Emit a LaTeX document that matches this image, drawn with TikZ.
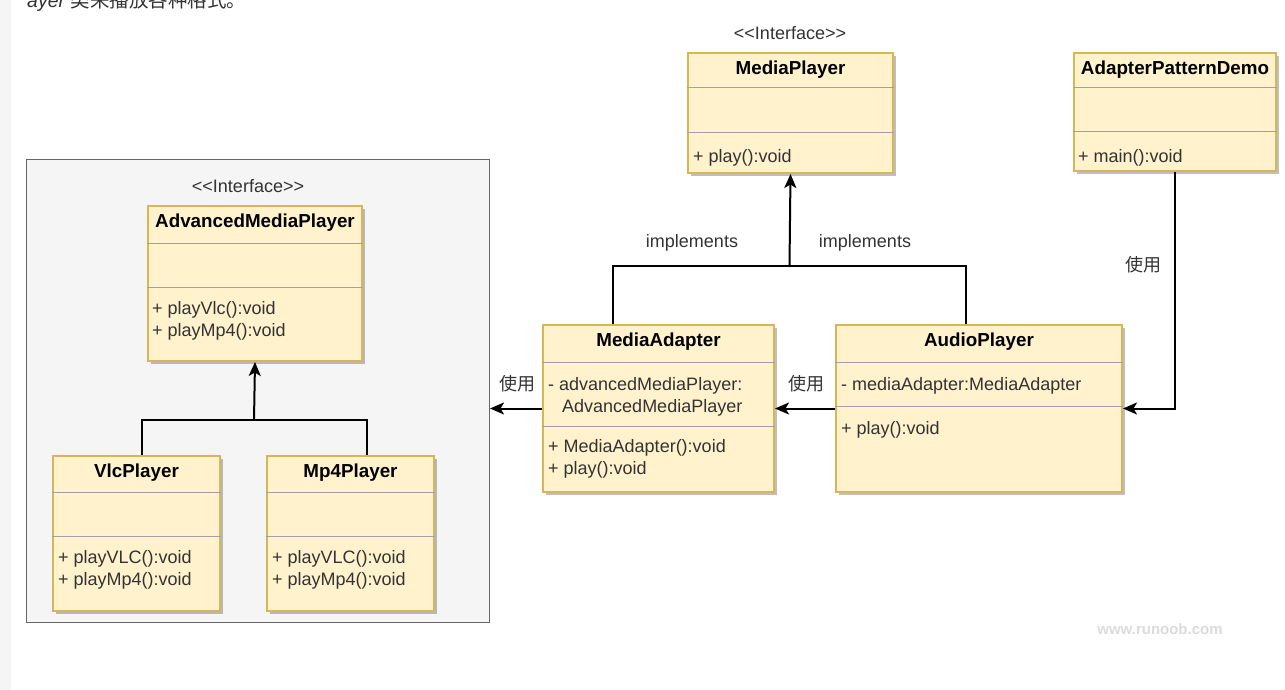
\documentclass[tikz,border=0pt]{standalone}
\usepackage{fontspec}
\setmainfont{Liberation Sans}
\newfontfamily\cjk{Noto Sans CJK SC}
\usepackage{tikz}
\usetikzlibrary{arrows.meta,shadows,positioning}
\definecolor{umlfill}{RGB}{255,242,204}
\definecolor{umlborder}{RGB}{214,182,86}
\definecolor{groupfill}{RGB}{245,245,245}
\definecolor{groupborder}{RGB}{102,102,102}
\definecolor{textgray}{RGB}{51,51,51}
\definecolor{sepgray}{RGB}{160,160,170}
\tikzstyle{classbox} = [rectangle, anchor=north west, draw=umlborder, fill=umlfill, line width=2pt, inner sep=0pt, drop shadow={shadow xshift=3pt, shadow yshift=-3pt, fill=black, opacity=0.25}]
\tikzstyle{classname} = [inner sep=0pt, font=\fontsize{18.8}{22}\selectfont\bfseries, text=black]
\tikzstyle{member} = [anchor=west, inner sep=0pt, align=left, font=\fontsize{18}{22}\selectfont, text=textgray]
\tikzstyle{sepline} = [line width=1pt, color=sepgray]
\tikzstyle{connector} = [line width=2pt, color=black]
\tikzstyle{arrow} = [connector, -{Stealth[length=14pt, width=12pt, inset=3.5pt]}]
\tikzstyle{linklabel} = [inner sep=0pt, font=\fontsize{18}{22}\selectfont, text=textgray]

\begin{document}
\begin{tikzpicture}[x=1pt, y=-1pt]
\useasboundingbox (0,0) rectangle (1285,690);
\fill[groupfill] (0,0) rectangle (11,690);
\node (pagetext) [anchor=base west, inner sep=0pt, font=\fontsize{19.5}{22}\selectfont, text=textgray] at (27,8) {{\itshape ayer} {\cjk 类来播放各种格式。}};

% left group with the advanced players
\node (group) [rectangle, anchor=north west, draw=groupborder, fill=groupfill, line width=1pt, minimum width=463pt, minimum height=463pt] at (26,159) {};
\node (advstereo) [linklabel] at (248,186) {<\kern0pt<Interface>\kern0pt>};

\node (advplayer) [classbox, minimum width=214pt, minimum height=155pt] at (147,205) {};
\node (advplayer-name) [classname] at ([yshift=-18pt]advplayer.north) {AdvancedMediaPlayer};
\draw[sepline] ([yshift=-38pt]advplayer.north west) -- ([yshift=-38pt]advplayer.north east);
\draw[sepline] ([yshift=-82pt]advplayer.north west) -- ([yshift=-82pt]advplayer.north east);
\node (advplayer-ops) [member] at ([xshift=5pt, yshift=-116pt]advplayer.north west) {+ playVlc():void\\+ playMp4():void};

\node (vlcplayer) [classbox, minimum width=167pt, minimum height=155pt] at (52,455) {};
\node (vlcplayer-name) [classname] at ([yshift=-18pt]vlcplayer.north) {VlcPlayer};
\draw[sepline] ([yshift=-37pt]vlcplayer.north west) -- ([yshift=-37pt]vlcplayer.north east);
\draw[sepline] ([yshift=-81pt]vlcplayer.north west) -- ([yshift=-81pt]vlcplayer.north east);
\node (vlcplayer-ops) [member] at ([xshift=6pt, yshift=-115pt]vlcplayer.north west) {+ playVLC():void\\+ playMp4():void};

\node (mp4player) [classbox, minimum width=167pt, minimum height=155pt] at (266,455) {};
\node (mp4player-name) [classname] at ([yshift=-18pt]mp4player.north) {Mp4Player};
\draw[sepline] ([yshift=-37pt]mp4player.north west) -- ([yshift=-37pt]mp4player.north east);
\draw[sepline] ([yshift=-81pt]mp4player.north west) -- ([yshift=-81pt]mp4player.north east);
\node (mp4player-ops) [member] at ([xshift=6pt, yshift=-115pt]mp4player.north west) {+ playVLC():void\\+ playMp4():void};

\coordinate (advbar) at (254,420);
\draw[connector] ([xshift=90pt]vlcplayer.north west) |- (advbar) -| ([xshift=101pt]mp4player.north west);
\draw[arrow] (advbar) -- (advplayer.south);

% media player interface and the demo
\node (mpstereo) [linklabel] at (790,33) {<\kern0pt<Interface>\kern0pt>};
\node (mediaplayer) [classbox, minimum width=205pt, minimum height=120pt] at (687,52) {};
\node (mediaplayer-name) [classname] at ([yshift=-18pt]mediaplayer.north) {MediaPlayer};
\draw[sepline] ([yshift=-36pt]mediaplayer.north west) -- ([yshift=-36pt]mediaplayer.north east);
\draw[sepline] ([yshift=-81pt]mediaplayer.north west) -- ([yshift=-81pt]mediaplayer.north east);
\node (mediaplayer-ops) [member] at ([xshift=6pt, yshift=-106pt]mediaplayer.north west) {+ play():void};

\node (demo) [classbox, minimum width=202pt, minimum height=118pt] at (1073,52) {};
\node (demo-name) [classname] at ([yshift=-18pt]demo.north) {AdapterPatternDemo};
\draw[sepline] ([yshift=-36pt]demo.north west) -- ([yshift=-36pt]demo.north east);
\draw[sepline] ([yshift=-80pt]demo.north west) -- ([yshift=-80pt]demo.north east);
\node (demo-ops) [member] at ([xshift=5pt, yshift=-106pt]demo.north west) {+ main():void};

% adapter and audio player
\node (mediaadapter) [classbox, minimum width=231pt, minimum height=167pt] at (542,324) {};
\node (mediaadapter-name) [classname] at ([yshift=-18pt]mediaadapter.north) {MediaAdapter};
\draw[sepline] ([yshift=-38pt]mediaadapter.north west) -- ([yshift=-38pt]mediaadapter.north east);
\draw[sepline] ([yshift=-102pt]mediaadapter.north west) -- ([yshift=-102pt]mediaadapter.north east);
\node (mediaadapter-attrs) [member] at ([xshift=6pt, yshift=-72.5pt]mediaadapter.north west) {- advancedMediaPlayer:\\\hspace*{14pt}AdvancedMediaPlayer};
\node (mediaadapter-ops) [member] at ([xshift=6pt, yshift=-134.5pt]mediaadapter.north west) {+ MediaAdapter():void\\+ play():void};

\node (audioplayer) [classbox, minimum width=286pt, minimum height=167pt] at (835,324) {};
\node (audioplayer-name) [classname] at ([yshift=-18pt]audioplayer.north) {AudioPlayer};
\draw[sepline] ([yshift=-38pt]audioplayer.north west) -- ([yshift=-38pt]audioplayer.north east);
\draw[sepline] ([yshift=-82pt]audioplayer.north west) -- ([yshift=-82pt]audioplayer.north east);
\node (audioplayer-attrs) [member] at ([xshift=6pt, yshift=-62pt]audioplayer.north west) {- mediaAdapter:MediaAdapter};
\node (audioplayer-ops) [member] at ([xshift=6pt, yshift=-106pt]audioplayer.north west) {+ play():void};

% implements
\coordinate (implbar) at (789.5,266);
\draw[connector] ([xshift=71pt]mediaadapter.north west) |- (implbar) -| ([xshift=131pt]audioplayer.north west);
\draw[arrow] (implbar) -- (mediaplayer.south);
\node (impl1) [linklabel] at (692,243) {implements};
\node (impl2) [linklabel] at (865,243) {implements};

% uses
\draw[arrow] (mediaadapter.west) -- (mediaadapter.west -| group.east);
\draw[arrow] (audioplayer.west) -- (mediaadapter.east);
\draw[arrow] (demo.south) |- (audioplayer.east);
\node (use1) [linklabel] at (517,384) {\cjk 使用};
\node (use2) [linklabel] at (806,384) {\cjk 使用};
\node (use3) [linklabel] at (1143,265) {\cjk 使用};

\node (watermark) [inner sep=0pt, font=\fontsize{15}{18}\selectfont\bfseries, text=black!14] at (1160,629) {www.runoob.com};
\end{tikzpicture}
\end{document}
